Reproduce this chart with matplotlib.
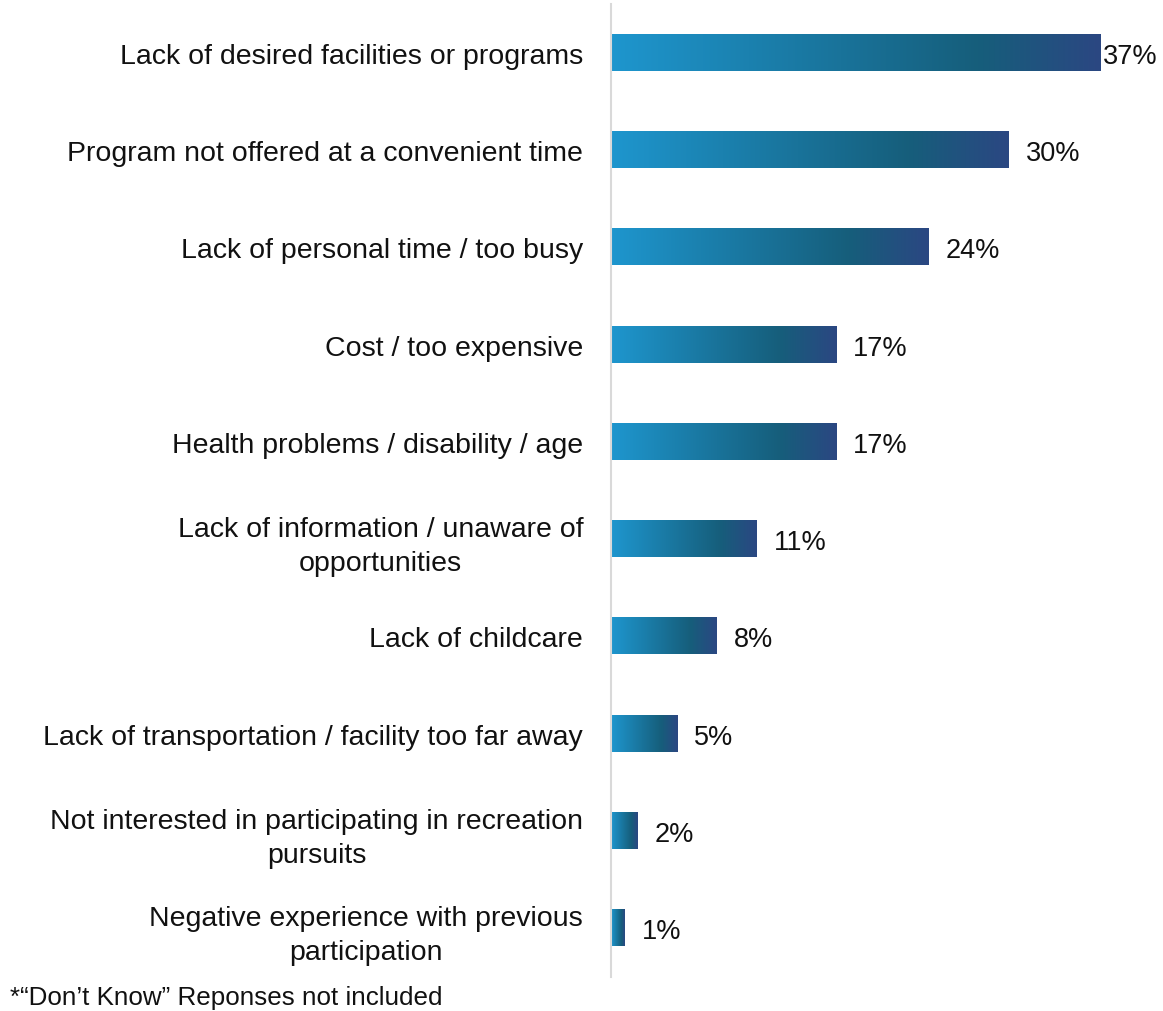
import numpy as np
import matplotlib
matplotlib.use("Agg")
import matplotlib.pyplot as plt
from matplotlib.colors import LinearSegmentedColormap

# reasons for not using facilities / programs, % of respondents
categories = [
    "Lack of desired facilities or programs",
    "Program not offered at a convenient time",
    "Lack of personal time / too busy",
    "Cost / too expensive",
    "Health problems / disability / age",
    "Lack of information / unaware of\nopportunities",
    "Lack of childcare",
    "Lack of transportation / facility too far away",
    "Not interested in participating in recreation\npursuits",
    "Negative experience with previous\nparticipation",
]
values = [37, 30, 24, 17, 17, 11, 8, 5, 2, 1]
value_labels = ["37%", "30%", "24%", "17%", "17%", "11%", "8%", "5%", "2%", "1%"]
footnote = "*\u201cDon\u2019t Know\u201d Reponses not included"

plt.rcParams['font.family'] = ['Liberation Sans', 'DejaVu Sans']

W, H = 1163, 1012
fig = plt.figure(figsize=(W / 100, H / 100), dpi=100)
ax = fig.add_axes([611 / W, 34 / H, (W - 611) / W, (1007 - 34) / H])

# blue -> dark teal -> navy, stretched over each bar
grad_cmap = LinearSegmentedColormap.from_list(
    "bar_grad", [(0.0, "#1E96CE"), (0.75, "#165E7B"), (1.0, "#2B4782")])
grad = np.linspace(0, 1, 256).reshape(1, -1)

bar_h = 0.37
xmax = 37 * (W - 611) / (1101 - 611)
for i, v in enumerate(values):
    ax.imshow(grad, extent=[0, v, i + bar_h / 2, i - bar_h / 2],
              aspect='auto', cmap=grad_cmap, interpolation='bilinear')
    # the longest bar has its label tucked right against the end
    off = 0.15 if v == max(values) else 1.3
    ax.text(v + off, i, value_labels[i], ha='left', va='center_baseline',
            fontsize=19.5, color='#111111')

ax.set_xlim(0, xmax)
ax.set_ylim(len(values) - 0.5, -0.5)
ax.set_yticks(range(len(categories)))
ax.set_yticklabels(categories, fontsize=20.5, color='#111111')
for lbl in ax.get_yticklabels():
    lbl.set_multialignment('center')
    lbl.set_linespacing(1.4)
ax.tick_params(axis='y', length=0, pad=20)
ax.set_xticks([])

for side in ['top', 'right', 'bottom']:
    ax.spines[side].set_visible(False)
ax.spines['left'].set_color('#D9D9D9')
ax.spines['left'].set_linewidth(1.5)

fig.text(10 / W, 1 - 998 / H, footnote, ha='left', va='center',
         fontsize=18.7, color='#111111')

fig.savefig("out.png", dpi=100)
